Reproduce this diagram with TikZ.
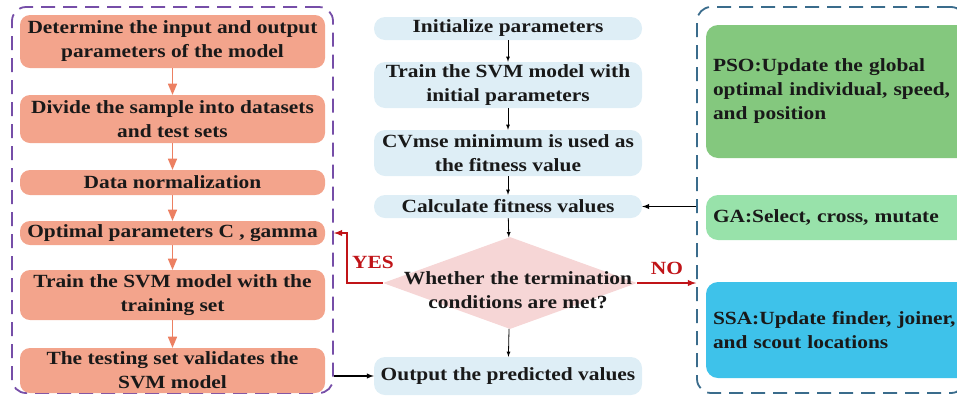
\documentclass[tikz,border=0pt]{standalone}
\usepackage{fontspec}
\setmainfont{Liberation Serif}[FakeStretch=1.15]
\usepackage{tikz}
\usetikzlibrary{arrows,shapes,positioning}
\definecolor{salmon}{RGB}{243,164,140}
\definecolor{salmonline}{RGB}{236,128,98}
\definecolor{paleblue}{RGB}{222,238,246}
\definecolor{palepink}{RGB}{246,214,214}
\definecolor{dashpurple}{RGB}{118,78,168}
\definecolor{dashteal}{RGB}{58,108,140}
\definecolor{darkred}{RGB}{192,20,24}
\definecolor{psogreen}{RGB}{132,200,126}
\definecolor{gagreen}{RGB}{152,226,170}
\definecolor{ssablue}{RGB}{62,194,234}
\newcommand{\leftw}{305pt}
\newcommand{\midw}{268pt}
\newcommand{\rightw}{256pt}
\newcommand{\txtfont}{\bfseries\fontsize{18.6}{24}\selectfont}

\tikzset{
  frame/.style={draw, line width=1.8pt, dash pattern=on 14pt off 8pt, rounded corners=14pt, inner sep=0pt},
  leftstep/.style={fill=salmon, rounded corners=10pt, minimum width=\leftw, inner sep=0pt, align=center},
  midstep/.style={fill=paleblue, rounded corners=11pt, minimum width=\midw, inner sep=0pt, align=center},
  algobox/.style={rounded corners=12pt, minimum width=\rightw, inner sep=7pt, text width=262pt, align=left},
  leftarrow/.style={draw=salmonline, line width=1.6pt, -triangle 45},
  midarrow/.style={draw=black, line width=0.8pt, -latex},
  redarrow/.style={draw=darkred, line width=1.8pt, -latex},
  yesno/.style={text=darkred}
}

\begin{document}
\begin{tikzpicture}[x=1pt, y=-1pt, font=\txtfont, text=black!90]
\useasboundingbox (0,0) rectangle (957,400);

% dashed frames
\node[frame, draw=dashpurple, minimum width=321pt, minimum height=386pt] (leftbox) at (172.5,200) {};
\node[frame, draw=dashteal, minimum width=268pt, minimum height=386pt] (rightbox) at (831,200) {};

% left column
\node[leftstep, minimum height=53pt] (n1) at (172.5,41.5) {Determine the input and output\\parameters of the model};
\node[leftstep, minimum height=48pt] (n2) at (172.5,119) {Divide the sample into datasets\\and test sets};
\node[leftstep, minimum height=25pt] (n3) at (172.5,182.5) {Data normalization};
\node[leftstep, minimum height=24pt] (n4) at (172.5,233) {Optimal parameters C , gamma};
\node[leftstep, minimum height=50pt] (n5) at (172.5,295) {Train the SVM model with the\\training set};
\node[leftstep, minimum height=45pt] (n6) at (172.5,370.5) {The testing set validates the\\SVM model};

\foreach \a/\b in {n1/n2,n2/n3,n3/n4,n4/n5,n5/n6}
  \draw[leftarrow] (\a) -- (\b);

% middle column
\node[midstep, minimum height=23pt] (c1) at (508,28.5) {Initialize parameters};
\node[midstep, minimum height=46pt] (c2) at (508,85) {Train the SVM model with\\initial parameters};
\node[midstep, minimum height=46pt] (c3) at (508,153) {CVmse minimum is used as\\the fitness value};
\node[midstep, minimum height=23pt] (c4) at (508,206.5) {Calculate fitness values};
\node[diamond, fill=palepink, minimum width=254pt, minimum height=92pt, inner sep=0pt,
      label={[align=center, xshift=8pt, yshift=-7pt]center:Whether the termination\\conditions are met?}] (dec) at (510,283) {};
\node[midstep, minimum height=38pt] (c6) at (508,376) {Output the predicted values};

\foreach \a/\b in {c1/c2,c2/c3,c3/c4,c4/dec,dec/c6}
  \draw[midarrow] (\a) -- (\b);

% right column
\node[algobox, fill=psogreen, minimum height=133pt] (pso) at (844,91.5) {PSO:Update the global\\optimal individual, speed,\\and position};
\node[algobox, fill=gagreen, minimum height=45pt] (ga) at (844,217.5) {GA:Select, cross, mutate};
\node[algobox, fill=ssablue, minimum height=96pt] (ssa) at (844,330) {SSA:Update finder, joiner,\\and scout locations};

% links between columns
\coordinate (yesturn) at (347,283);
\draw[redarrow] (dec.west) -- (yesturn) |- (n4.east -| leftbox.east);
\draw[redarrow] (dec.east) -- (dec.east -| rightbox.west);
\node[yesno] (yes) at (373,262) {YES};
\node[yesno] (no) at (667,268) {NO};
\draw[midarrow, line width=1.4pt] (c4.east -| rightbox.west) -- (c4.east);
\draw[midarrow, line width=1.4pt] (leftbox.east |- c6.west) -- (c6.west);
\end{tikzpicture}
\end{document}
